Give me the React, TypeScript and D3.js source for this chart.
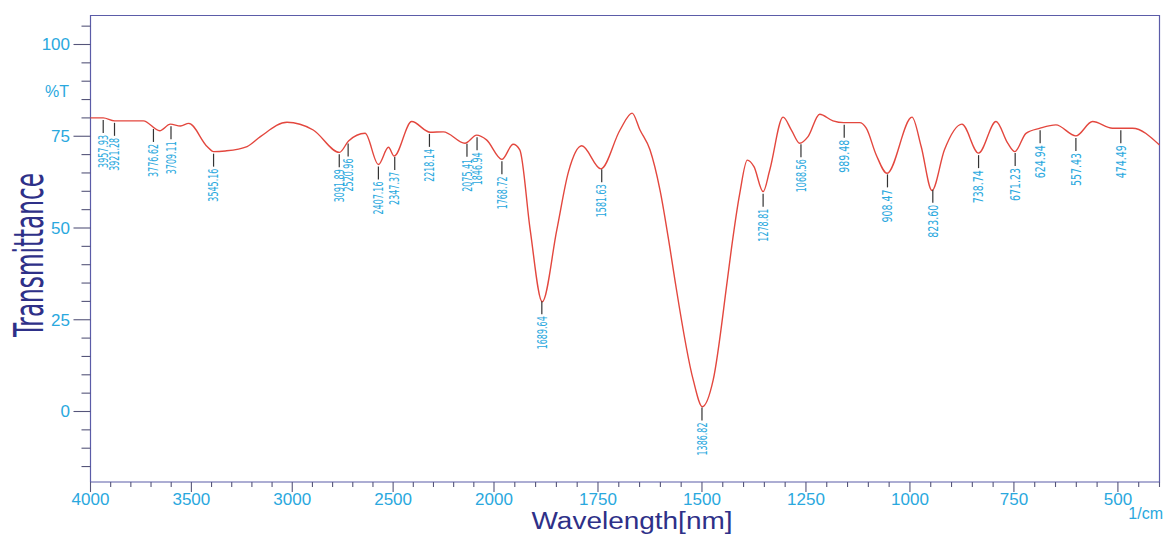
import React from 'react';
import * as d3 from 'd3';

// spectrum (axis units, % transmittance)
const wavenumber = [4000, 3937, 3881, 3738, 3657, 3604, 3554, 3513, 3422, 3390, 3332, 3224, 3158, 3026, 2896, 2766, 2721, 2639, 2573, 2523, 2495, 2408, 2317, 2251, 2144, 2086, 2037, 1981, 1954, 1938, 1913, 1884, 1849, 1821, 1789, 1743, 1697, 1668, 1649, 1625, 1601, 1577, 1565, 1521, 1499, 1473, 1439, 1429, 1409, 1391, 1375, 1353, 1337, 1305, 1285, 1265, 1245, 1217, 1185, 1159, 1121, 1105, 1081, 1055, 995, 973, 947, 917, 875, 835, 793, 765, 748, 721, 687, 649, 601, 561, 513, 493, 465, 400];
const transmittance = [80.0, 80.0, 79.2, 79.2, 76.5, 78.3, 77.8, 78.5, 72.2, 70.8, 71.0, 72.2, 74.9, 78.8, 76.7, 70.6, 73.7, 75.8, 67.3, 72.0, 69.6, 79.0, 76.1, 76.2, 73.1, 75.3, 74.0, 68.7, 72.8, 71.3, 49.5, 29.9, 49.5, 65.3, 72.4, 66.1, 76.7, 81.3, 76.7, 71.3, 60.4, 44.5, 35.8, 8.6, 1.3, 8.6, 35.8, 44.5, 59.5, 68.5, 66.7, 59.9, 65.8, 80.2, 76.7, 73.1, 74.9, 81.0, 79.2, 78.7, 78.7, 77.2, 69.9, 64.9, 80.2, 72.2, 60.2, 71.3, 78.3, 70.4, 79.0, 73.1, 70.8, 75.8, 77.2, 78.1, 75.1, 79.0, 77.2, 77.2, 77.2, 72.6];

// peak markers: where they sit on the axis, and the text printed on them
const peakPos = [3937, 3881, 3688, 3601, 3390, 2767, 2723, 2573, 2492, 2320, 2134, 2084, 1981, 1885, 1741, 1500, 1353, 1262, 1158, 1054, 945, 835, 747, 687, 601, 493];
const peakLabels = ['3957.93', '3921.28', '3776.62', '3709.11', '3545.16', '3091.89', '2520.96', '2407.16', '2347.37', '2218.14', '2075.41', '1846.94', '1768.72', '1689.64', '1581.63', '1386.82', '1278.81', '1068.56', '989.48', '908.47', '823.60', '738.74', '671.23', '624.94', '557.43', '474.49'];

const xMajor = [4000, 3500, 3000, 2500, 2000, 1750, 1500, 1250, 1000, 750, 500];
const yMajor = [0, 25, 50, 75, 100];

const W = 1165;
const H = 534;
const left = 90.5;
const right = 1159.5;
const top = 15.5;
const bottom = 482;

const TICK_COLOR = '#55557a';
const FRAME_COLOR = '#5b5ca8';
const LABEL_COLOR = '#2aa8de';
const TITLE_COLOR = '#2e3088';
const NARROW = "'Liberation Sans Narrow', 'DejaVu Sans Condensed', 'Arial Narrow', sans-serif";
const SANS = "'Liberation Sans', Arial, sans-serif";

export default function App() {
  // the instrument scale is stretched 2x below 2000
  const x = d3.scaleLinear().domain([4000, 2000, 400]).range([left, 494, right]);
  const y = d3.scaleLinear().domain([0, 100]).range([411.5, 44.5]);
  const tAt = d3.scaleLinear().domain(wavenumber).range(transmittance);

  const xMinor = d3.range(4000, 2000, -100).concat(d3.range(2000, 399, -50));
  const yMinor = d3.range(-15, 106, 5);

  const line = d3.line<number>()
    .x((d, i) => x(wavenumber[i]))
    .y(d => y(d))
    .curve(d3.curveMonotoneX);

  return (
    <svg width={W} height={H} style={{ position: 'absolute', left: 0, top: 0, background: '#fff' }}>
      {/* frame */}
      <path d={`M${left},${bottom}V${top}H${right}V${bottom}H${left}`} fill="none" stroke={FRAME_COLOR} strokeWidth={1.2} />

      {/* y ticks */}
      {yMinor.map(v => {
        const major = yMajor.includes(v);
        return <line key={'ym' + v} x1={left - (major ? 17 : 9)} x2={left} y1={y(v)} y2={y(v)} stroke={TICK_COLOR} strokeWidth={1.1} />;
      })}
      {yMajor.map(v => (
        <text key={'yl' + v} x={70} y={y(v)} dy="0.35em" textAnchor="end" fontFamily={SANS} fontSize={17} fill={LABEL_COLOR}>{v}</text>
      ))}
      <text x={57} y={y(87.3)} dy="0.35em" textAnchor="middle" fontFamily={SANS} fontSize={16} fill={LABEL_COLOR}>%T</text>

      {/* x ticks */}
      {xMinor.map(v => {
        const major = xMajor.includes(v);
        return <line key={'xm' + v} x1={x(v)} x2={x(v)} y1={bottom} y2={bottom + (major ? 10 : 5)} stroke={TICK_COLOR} strokeWidth={1.1} />;
      })}
      {xMajor.map(v => (
        <text key={'xl' + v} x={x(v)} y={505} textAnchor="middle" fontFamily={SANS} fontSize={17} fill={LABEL_COLOR}>{v}</text>
      ))}
      <text x={1163} y={519} textAnchor="end" fontFamily={SANS} fontSize={16} fill={LABEL_COLOR}>1/cm</text>

      {/* titles */}
      <text x={632} y={529} textAnchor="middle" fontFamily={SANS} fontSize={23} textLength={201} lengthAdjust="spacingAndGlyphs" fill={TITLE_COLOR}>Wavelength[nm]</text>
      <text transform="translate(43,255) rotate(-90)" textAnchor="middle" fontFamily={NARROW} fontSize={40} textLength={164} lengthAdjust="spacingAndGlyphs" fill={TITLE_COLOR}>Transmittance</text>

      {/* spectrum */}
      <path d={line(transmittance) || ''} fill="none" stroke="#e3473e" strokeWidth={1.4} />

      {/* peak markers */}
      {peakPos.map((p, i) => {
        const px = x(p);
        const py = y(tAt(p)) + 2;
        return (
          <g key={'pk' + i}>
            <line x1={px} x2={px} y1={py} y2={py + 13} stroke="#333" strokeWidth={1.2} />
            <text transform={`translate(${px},${py + 15}) rotate(-90)`} dy="0.35em" textAnchor="end"
              fontFamily={NARROW} fontSize={13.5} textLength={33} lengthAdjust="spacingAndGlyphs" fill={LABEL_COLOR}>
              {peakLabels[i]}
            </text>
          </g>
        );
      })}
    </svg>
  );
}
